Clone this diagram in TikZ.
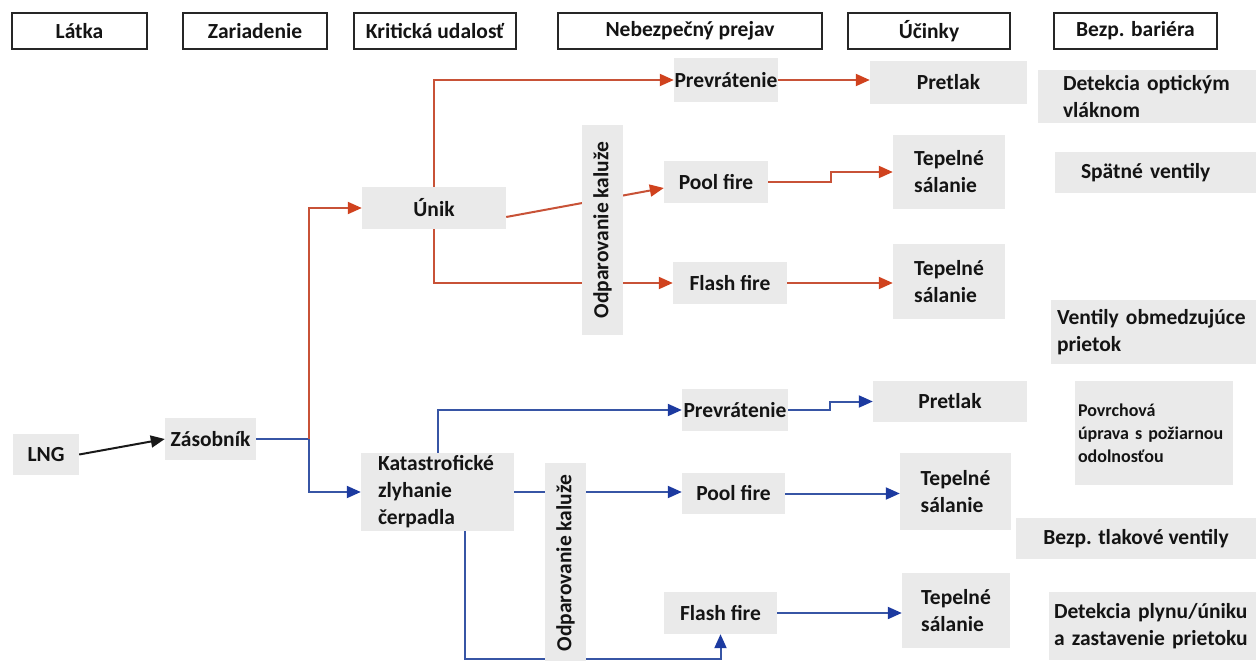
\documentclass[tikz,border=0pt]{standalone}
\usepackage{fontspec}
\setmainfont{Carlito}
\usetikzlibrary{arrows.meta,backgrounds,calc}
\definecolor{rline}{RGB}{200,82,55}
\definecolor{rtipc}{RGB}{208,66,30}
\definecolor{bline}{RGB}{55,85,165}
\definecolor{btipc}{RGB}{28,58,160}
\definecolor{gfill}{RGB}{234,234,234}
\definecolor{txt}{RGB}{20,20,20}
\begin{document}
\begin{tikzpicture}[x=1pt,y=-1pt,
  every node/.style={font=\fontsize{21.5}{27}\selectfont\bfseries, text=txt},
  hdr/.style={draw=black!85, line width=1.6pt, fill=white, inner sep=0pt, minimum height=36pt},
  gbox/.style={fill=gfill, inner sep=0pt},
  rl/.style={draw=rline, line width=2pt, -{Triangle[length=14pt,width=12pt,color=rtipc]}},
  bl/.style={draw=bline, line width=2pt, -{Triangle[length=14pt,width=12pt,color=btipc]}},
  kl/.style={draw=black!90, line width=2pt, -{Triangle[length=14pt,width=12pt]}},
]
\useasboundingbox (0,0) rectangle (1256,661);
% headers
\node[hdr, minimum width=135pt] (hL) at (79.5,31) {Látka};
\node[hdr, minimum width=144pt] (hZ) at (255,31) {Zariadenie};
\node[hdr, minimum width=162pt] (hK) at (435,31) {Kritická udalosť};
\node[hdr, minimum width=264pt] (hN) at (690,31) {Nebezpečný prejav};
\node[hdr, minimum width=162pt] (hU) at (929,31) {Účinky};
\node[hdr, minimum width=163pt] (hB) at (1135.5,31) {Bezp. bariéra};
% left part
\node[gbox, minimum width=66pt, minimum height=41pt] (lng) at (46,454.5) {LNG};
\node[gbox, minimum width=91pt, minimum height=42pt] (zas) at (210.5,439) {Zásobník};
\node[gbox, minimum width=144pt, minimum height=42pt] (unik) at (434,208) {Únik};
\node[gbox, minimum width=153pt, minimum height=78pt, text width=119pt, inner xsep=17pt, align=left] (kat) at (437.5,492) {Katastrofické\\zlyhanie\\čerpadla};
\node[gbox, rotate=90, minimum width=210pt, minimum height=41pt] (odp1) at (602.5,230) {Odparovanie kaluže};
\node[gbox, rotate=90, minimum width=200pt, minimum height=41pt] (odp2) at (565.5,563) {Odparovanie kaluže};
% upper branch
\node[gbox, minimum width=104pt, minimum height=44pt] (prev1) at (726,80) {Prevrátenie};
\node[gbox, minimum width=157pt, minimum height=43pt] (pre1) at (948.5,82.5) {Pretlak};
\node[gbox, minimum width=104pt, minimum height=42pt] (pool1) at (716,182) {Pool fire};
\node[gbox, minimum width=114pt, minimum height=42pt] (flash1) at (730,283) {Flash fire};
\node[gbox, minimum width=112pt, minimum height=74pt, align=left] (tep1) at (949,172) {Tepelné\\sálanie};
\node[gbox, minimum width=112pt, minimum height=75pt, align=left] (tep2) at (949,281.5) {Tepelné\\sálanie};
% lower branch
\node[gbox, minimum width=106pt, minimum height=42pt] (prev2) at (735,410) {Prevrátenie};
\node[gbox, minimum width=154pt, minimum height=41pt] (pre2) at (950,401.5) {Pretlak};
\node[gbox, minimum width=103pt, minimum height=41pt] (pool2) at (733.5,493.5) {Pool fire};
\node[gbox, minimum width=111pt, minimum height=77pt, align=left] (tep3) at (955.5,491.5) {Tepelné\\sálanie};
\node[gbox, minimum width=113pt, minimum height=42pt] (flash2) at (720.5,613) {Flash fire};
\node[gbox, minimum width=108pt, minimum height=75pt, align=left] (tep4) at (956,610.5) {Tepelné\\sálanie};
% barriers
\node[gbox, minimum width=218pt, minimum height=53pt, text width=168pt, inner xsep=25pt, align=left] (b1) at (1147,96.5) {\mbox{Detekcia optickým}\\vláknom};
\node[gbox, minimum width=201pt, minimum height=41pt, text width=149pt, inner xsep=26pt, align=left] (b2) at (1155.5,172.5) {\mbox{Spätné ventily}};
\node[gbox, minimum width=205pt, minimum height=64pt, text width=193pt, inner xsep=6pt, align=left] (b3) at (1153.5,332) {\mbox{Ventily obmedzujúce}\\prietok};
\node[gbox, minimum width=158pt, minimum height=104pt, text width=152pt, inner xsep=3pt, align=left, font=\fontsize{18}{23}\selectfont\bfseries] (b4) at (1154,433) {Povrchová\\\mbox{úprava s požiarnou}\\odolnosťou};
\node[gbox, minimum width=240pt, minimum height=41pt] (b5) at (1136,538.5) {Bezp. tlakové ventily};
\node[gbox, minimum width=207pt, minimum height=68pt, text width=197pt, inner xsep=5pt, align=left] (b6) at (1152.5,626) {\mbox{Detekcia plynu/úniku}\\\mbox{a zastavenie prietoku}};
% connectors
\begin{scope}[on background layer]
\fill[white] (0,0) rectangle (1256,661);
\coordinate (sp) at (309,439);
\coordinate (j1) at (831,182);
\coordinate (j2) at (830,410);
\coordinate (kb) at (465,659);
\draw[kl] (lng.east) -- (zas.west);
\draw[bl] (zas.east) -- (sp) |- (kat.west);
\draw[rl] (sp) |- (unik.west);
\draw[rl] (unik.north) |- (prev1.west);
\draw[rl] (unik.south) |- (flash1.west);
\draw[rl] ([yshift=-9pt]unik.east) -- ([yshift=-6pt]pool1.west);
\draw[rl] (prev1.east) -- (pre1.west |- prev1.east);
\draw[rl] (pool1.east) -- (j1) |- (tep1.west);
\draw[rl] (flash1.east) -- (tep2.west |- flash1.east);
\draw[bl] (kat.north) |- (prev2.west);
\draw[bl] (prev2.east) -- (j2) |- (pre2.west);
\draw[bl] (kat.east) -- (pool2.west |- kat.east);
\draw[bl] (pool2.east) -- (tep3.west |- pool2.east);
\draw[bl] (flash2.east) -- (tep4.west |- flash2.east);
\draw[bl] (kat.south -| kb) -- (kb) -| (flash2.south);
\end{scope}
\end{tikzpicture}
\end{document}
